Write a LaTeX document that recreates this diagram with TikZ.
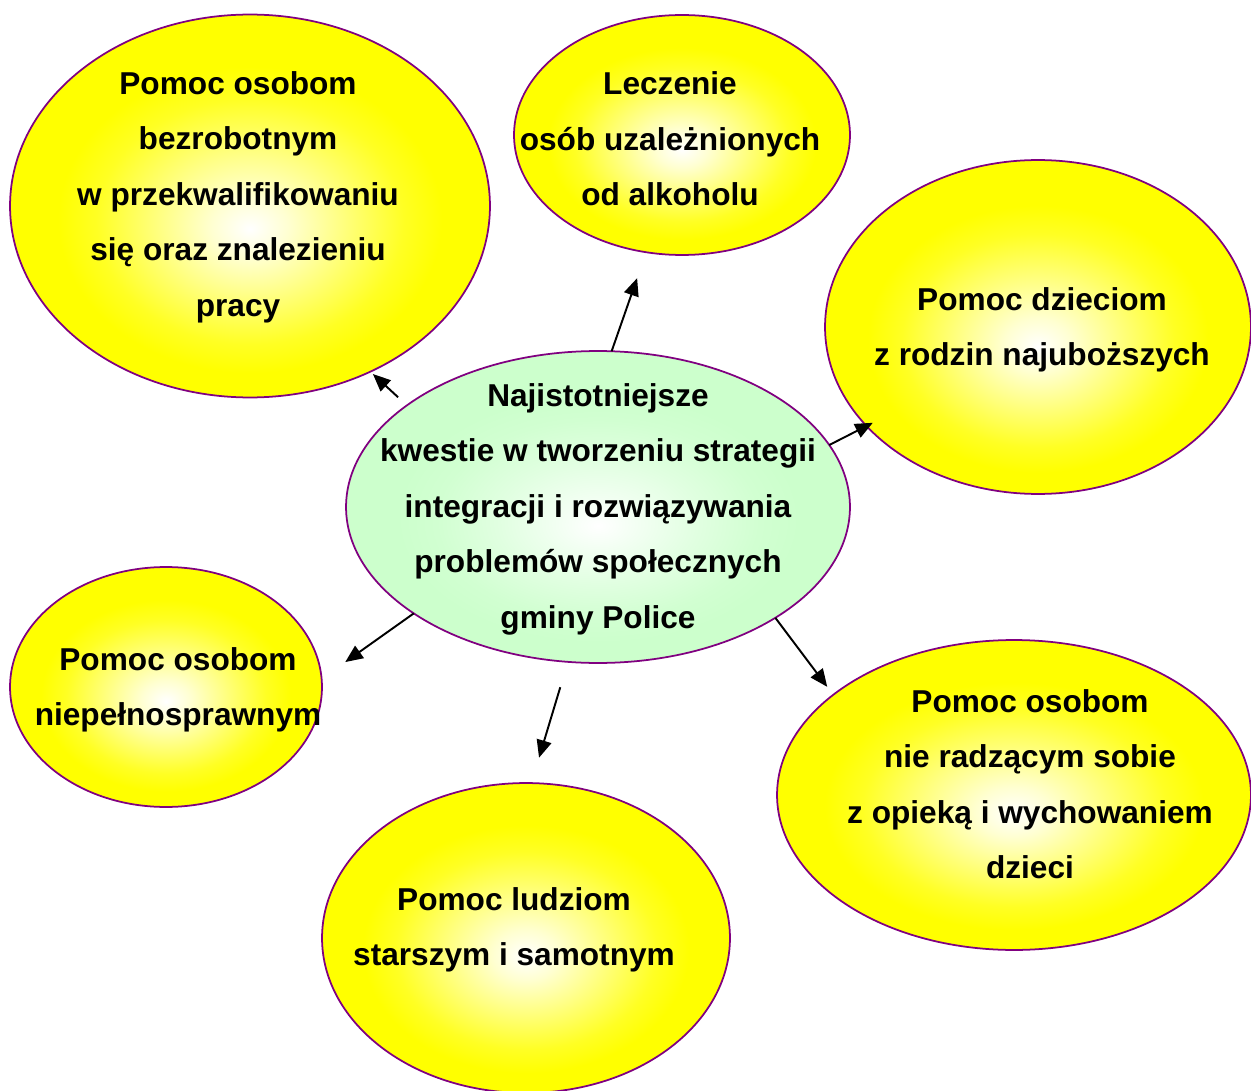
\documentclass[tikz,border=0pt]{standalone}
\usepackage{fontspec}
\setmainfont{Liberation Sans}
\usetikzlibrary{shapes,arrows.meta}

\definecolor{lilac}{HTML}{800080}
\definecolor{mintedge}{HTML}{CCFFCC}
\pgfdeclareradialshading{sunny}{\pgfpoint{0bp}{-3bp}}{color(0bp)=(white); color(4bp)=(yellow!18!white); color(10bp)=(yellow!52!white); color(16bp)=(yellow!86!white); color(20bp)=(yellow); color(50bp)=(yellow)}
\pgfdeclareradialshading{minty}{\pgfpoint{0bp}{-3bp}}{color(0bp)=(white); color(4bp)=(mintedge!25!white); color(10bp)=(mintedge!60!white); color(16bp)=(mintedge!90!white); color(20bp)=(mintedge); color(50bp)=(mintedge)}

\begin{document}
\begin{tikzpicture}[x=0.02cm, y=-0.02cm,
  bubble/.style={ellipse, draw=lilac, line width=1pt, shading=sunny, inner sep=0pt, outer sep=0pt},
  words/.style={align=center, font=\bfseries\fontsize{18}{31.6}\selectfont},
  arr/.style={-{Triangle[length=10pt,width=8.5pt]}, line width=1.1pt}]
\useasboundingbox (0,0) rectangle (1251,1091);
% ellipses
\node[bubble, minimum width=9.6cm, minimum height=7.66cm] (jobs) at (250,206) {};
\node[bubble, minimum width=6.72cm, minimum height=4.8cm] (alco) at (682,135) {};
\node[bubble, minimum width=8.52cm, minimum height=6.68cm] (kids) at (1038,327) {};
\node[bubble, shading=minty, minimum width=10.08cm, minimum height=6.24cm] (mid) at (598,507) {};
\node[bubble, minimum width=6.24cm, minimum height=4.8cm] (disab) at (166,687) {};
\node[bubble, minimum width=8.16cm, minimum height=6.2cm] (elder) at (526,938) {};
\node[bubble, minimum width=9.48cm, minimum height=6.2cm] (care) at (1014,795) {};
% texts
\node[words] (tjobs) at (238,197) {Pomoc osobom\\bezrobotnym\\w przekwalifikowaniu\\się oraz znalezieniu\\pracy};
\node[words] (talco) at (670,139) {Leczenie\\osób uzależnionych\\od alkoholu};
\node[words] (tkids) at (1042,330) {Pomoc dzieciom\\z rodzin najuboższych};
\node[words] (tmid) at (598,509) {Najistotniejsze\\kwestie w tworzeniu strategii\\integracji i rozwiązywania\\problemów społecznych\\gminy Police};
\node[words] (tdisab) at (178,690) {Pomoc osobom\\niepełnosprawnym};
\node[words] (telder) at (514,930) {Pomoc ludziom\\starszym i samotnym};
\node[words] (tcare) at (1030,784) {Pomoc osobom\\nie radzącym sobie\\z opieką i wychowaniem\\dzieci};
% arrows
\draw[arr, shorten <=0.24cm, shorten >=0.07cm] (mid.152.9) -- (jobs.-54.8);
\draw[arr, shorten >=0.55cm] (mid.85.6) -- (alco.253.2);
\draw[arr, shorten >=-0.14cm] (mid.15.1) -- (kids.210);
\draw[arr, shorten >=0.58cm] (mid.210.8) -- (disab.3.3);
\draw[arr, shorten <=0.53cm, shorten >=0.53cm] (mid.259.9) -- (elder.88.7);
\draw[arr, shorten >=0.2cm] (mid.328.9) -- (care.151.2);
\end{tikzpicture}
\end{document}
